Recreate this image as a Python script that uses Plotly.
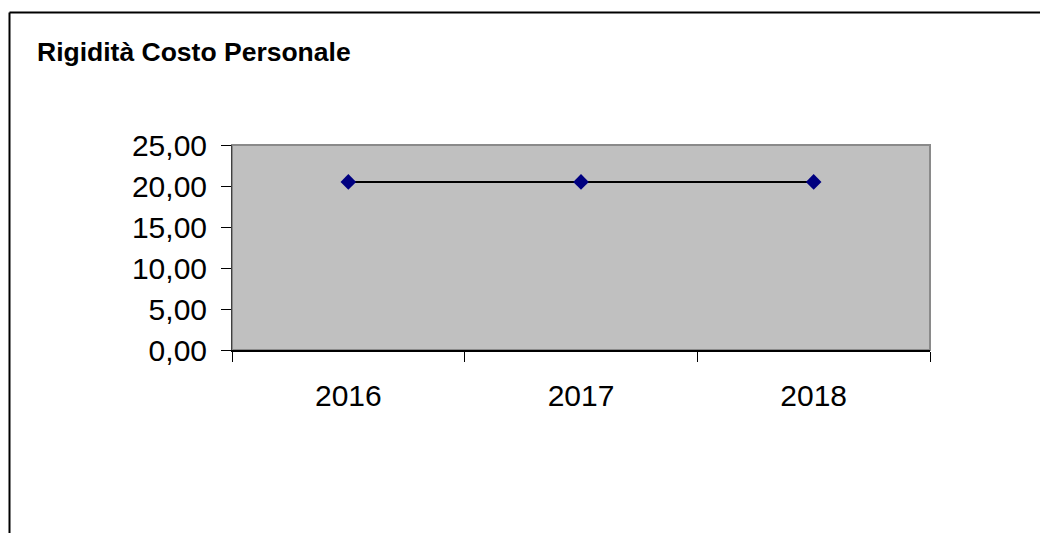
import plotly.graph_objects as go

years = ["2016", "2017", "2018"]
values = [20.5, 20.5, 20.5]
y_ticks = [0, 5, 10, 15, 20, 25]
y_tick_labels = ["0,00", "5,00", "10,00", "15,00", "20,00", "25,00"]
title_text = "Rigidità Costo Personale"

fig = go.Figure()
fig.add_trace(go.Scatter(
    x=years, y=values, mode="lines+markers",
    line=dict(color="black", width=2),
    marker=dict(symbol="diamond", size=12, color="#000080",
                line=dict(color="#000080", width=0)),
    showlegend=False, cliponaxis=False,
))

L, R, T, B = 232, 110, 145, 183
W, H = 1040, 533
pw, ph = W - L - R, H - T - B

def px_x(p):
    return (p - L) / pw

def px_y(p):
    return (H - B - p) / ph

fig.update_layout(
    width=W, height=H,
    margin=dict(l=L, r=R, t=T, b=B),
    paper_bgcolor="white",
    plot_bgcolor="#C0C0C0",
    font=dict(family="Liberation Sans, Arial, sans-serif", color="black"),
    xaxis=dict(
        type="category", tickson="boundaries", ticks="outside", ticklen=10,
        tickcolor="black", tickwidth=1, showline=True, linecolor="black",
        linewidth=2, showgrid=False, zeroline=False,
        tickfont=dict(size=30), ticklabelstandoff=18,
        range=[-0.5, 2.5], fixedrange=True,
    ),
    yaxis=dict(
        range=[0, 25], tickvals=y_ticks, ticktext=y_tick_labels,
        ticks="outside", ticklen=10, tickcolor="black", tickwidth=1,
        showline=True, linecolor="#404040", linewidth=1, showgrid=False,
        zeroline=False, tickfont=dict(size=30), ticklabelstandoff=8,
        fixedrange=True,
    ),
    shapes=[
        dict(type="rect", xref="paper", yref="paper", x0=0, x1=1, y0=0, y1=1,
             line=dict(color="#8A8A8A", width=2), layer="below"),
        dict(type="line", xref="paper", yref="paper",
             x0=px_x(9.5), x1=px_x(1040), y0=px_y(12.5), y1=px_y(12.5),
             line=dict(color="black", width=2)),
        dict(type="line", xref="paper", yref="paper",
             x0=px_x(9.5), x1=px_x(9.5), y0=px_y(12.5), y1=px_y(533),
             line=dict(color="black", width=2)),
    ],
    annotations=[
        dict(text="<b>" + title_text + "</b>", xref="paper", yref="paper",
             x=px_x(35), y=px_y(52), xanchor="left", yanchor="middle",
             showarrow=False, font=dict(size=26.5, color="black")),
    ],
)

fig.write_html(
    "out.html",
    config={"displayModeBar": False},
    post_script="document.body.style.margin='0';document.body.style.overflow='hidden';",
)
